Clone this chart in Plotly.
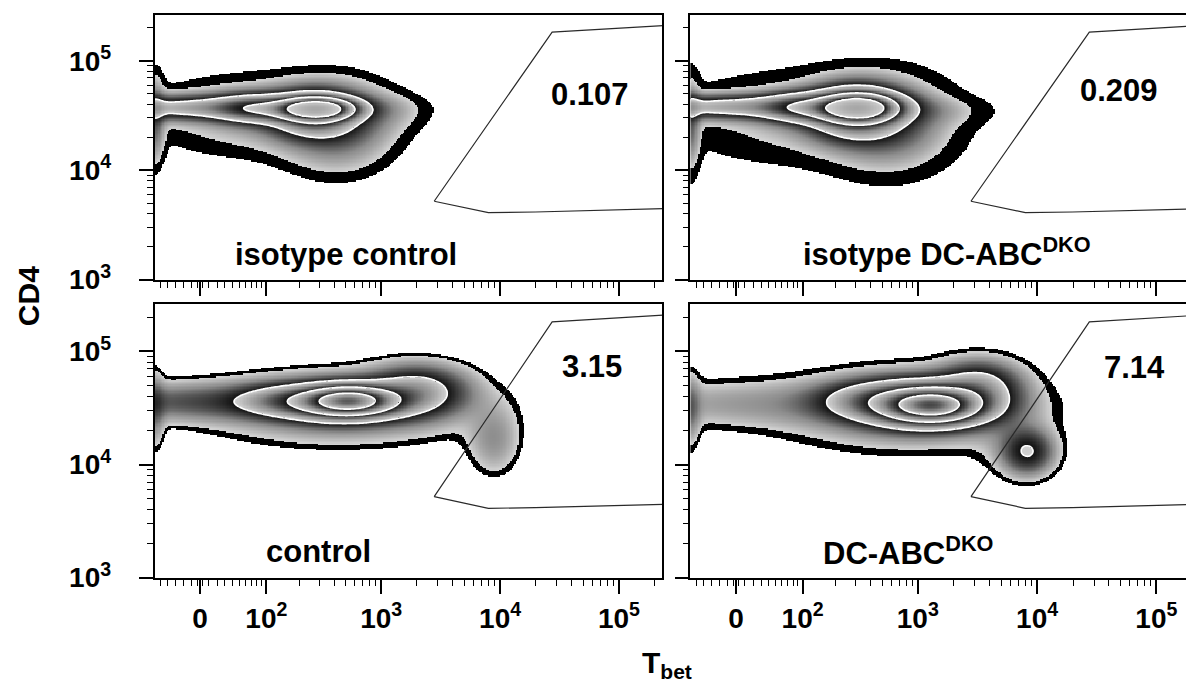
import numpy as np
import plotly.graph_objects as go

# ------------------------------------------------------------------ data
# Tbet axis is a biexponential (arcsinh) display, CD4 axis is log10
W_BIEX = 30.0

panel_labels = ["isotype control", "isotype DC-ABC<sup>DKO</sup>",
                "control", "DC-ABC<sup>DKO</sup>"]
gate_percent = ["0.107", "0.209", "3.15", "7.14"]

# gate polygon (Tbet, CD4) – same gate applied in every panel
gate_tbet = [2790, 7970, 19800, 240000, 240000, 65600, 27400, 2790]
gate_cd4 = [5200, 4100, 4150, 4450, 210000, 194000, 183000, 5200]

# density model of each population: centre (Tbet, CD4), spread (decades), weight
tl_tbet = [289, 262, 72, -2.7, 82, 428, 1130, -59]
tl_cd4 = [36500, 32960, 36500, 37240, 31620, 24720, 34360, 28510]
tl_sdx = [0.2015, 0.235, 0.21, 0.672, 0.6, 0.29, 0.24, 0.05]
tl_sdy = [0.0625, 0.134, 0.089, 0.0714, 0.241, 0.25, 0.12, 0.25]
tl_w = [0.7, 0.3, 0.2, 0.2, 0.045, 0.09, 0.022, 0.08]
tl_levels = [0.012, 0.025, 0.17, 0.42, 0.75, 3.0]

tr_tbet = [319, 289, 92, -2.7, 103, 573, 1506, -59]
tr_cd4 = [37240, 34360, 37240, 38020, 30340, 25760, 34360, 25760]
tr_sdx = [0.21, 0.252, 0.21, 0.672, 0.68, 0.32, 0.3, 0.05]
tr_sdy = [0.08, 0.161, 0.089, 0.0714, 0.268, 0.268, 0.09, 0.268]
tr_w = [0.7, 0.3, 0.2, 0.2, 0.045, 0.09, 0.022, 0.08]
tr_levels = [0.012, 0.03, 0.17, 0.42, 0.75, 3.0]

bl_tbet = [541, 472, 142, 9, 428, 2017, 8940, -59]
bl_cd4 = [36680, 35240, 36680, 35950, 31280, 44750, 16500, 30670]
bl_sdx = [0.235, 0.336, 0.252, 0.84, 0.75, 0.26, 0.14, 0.05]
bl_sdy = [0.0778, 0.112, 0.0864, 0.104, 0.216, 0.138, 0.2, 0.216]
bl_w = [0.7, 0.3, 0.15, 0.08, 0.05, 0.19, 0.045, 0.05]
bl_levels = [0.012, 0.018, 0.15, 0.42, 0.8, 1.25]

br_tbet = [1344, 1130, 428, 9, 766, 3300, 8400, 6000, -59]
br_cd4 = [33190, 34550, 36680, 34550, 30060, 51400, 12900, 17220, 30060]
br_sdx = [0.252, 0.378, 0.294, 0.924, 0.68, 0.22, 0.14, 0.21, 0.05]
br_sdy = [0.095, 0.138, 0.104, 0.138, 0.233, 0.138, 0.13, 0.216, 0.216]
br_w = [0.7, 0.3, 0.15, 0.04, 0.05, 0.15, 0.14, 0.02, 0.05]
br_levels = [0.012, 0.02, 0.15, 0.42, 0.8, 1.2]

x_major_vals = [0, 100, 1000, 10000, 100000]
x_major_text = ["0", "10<sup>2</sup>", "10<sup>3</sup>", "10<sup>4</sup>", "10<sup>5</sup>"]
y_major_vals = [1000, 10000, 100000]
y_major_text = ["10<sup>3</sup>", "10<sup>4</sup>", "10<sup>5</sup>"]


# ------------------------------------------------------------------ helpers
def tx(v):
    return np.arcsinh(np.asarray(v, float) / (2 * W_BIEX)) / np.log(10)


def ty(v):
    return np.log10(np.asarray(v, float))


X_RANGE = [float(tx(-60)), float(tx(232000))]
Y_RANGE = [3.0, 5.42]

gx = np.linspace(X_RANGE[0], X_RANGE[1], 360)
gy = np.linspace(Y_RANGE[0], Y_RANGE[1], 200)
GX, GY = np.meshgrid(gx, gy)


def density(tb, cd, sdx, sdy, w):
    d = np.zeros_like(GX)
    for a, b, sx, sy, ww in zip(tx(tb), ty(cd), sdx, sdy, w):
        d += ww * np.exp(-0.5 * ((GX - a) / sx) ** 2 - 0.5 * ((GY - b) / sy) ** 2)
    return d


LIGHT, MID, DARK = "#d4d4d4", "#8c8c8c", "#101010"


def zebra_colorscale(nb):
    cs = [[0.0, "#000000"], [1.0 / nb, "#000000"]]
    for k in range(1, nb):
        a, b = k / nb, (k + 1) / nb
        cs += [[a, LIGHT], [a + 0.5 * (b - a), MID], [b, DARK]]
    cs[-1][0] = 1.0
    return cs


fig = go.Figure()

panels = [
    (tl_tbet, tl_cd4, tl_sdx, tl_sdy, tl_w, tl_levels, "x", "y"),
    (tr_tbet, tr_cd4, tr_sdx, tr_sdy, tr_w, tr_levels, "x2", "y2"),
    (bl_tbet, bl_cd4, bl_sdx, bl_sdy, bl_w, bl_levels, "x3", "y3"),
    (br_tbet, br_cd4, br_sdx, br_sdy, br_w, br_levels, "x4", "y4"),
]

for tb, cd, sdx, sdy, w, levels, xa, ya in panels:
    d = density(tb, cd, sdx, sdy, w)
    logd = np.log10(np.maximum(d, 1e-12))
    ll = np.log10(levels)
    nb = len(levels) - 1
    band = np.interp(logd, ll, np.arange(len(levels), dtype=float))
    zh = band.copy()
    zh[logd < ll[0]] = np.nan
    fig.add_trace(go.Heatmap(
        x=gx, y=gy, z=zh.astype(np.float32), zmin=0, zmax=nb,
        colorscale=zebra_colorscale(nb), showscale=False, hoverinfo="skip",
        xaxis=xa, yaxis=ya))
    fig.add_trace(go.Contour(
        x=gx, y=gy, z=band.astype(np.float32), showscale=False, hoverinfo="skip",
        contours=dict(start=2, end=nb - 1, size=1, coloring="lines"),
        colorscale=[[0, "white"], [1, "white"]],
        line=dict(width=1.6, smoothing=0.6),
        xaxis=xa, yaxis=ya))
    fig.add_trace(go.Scatter(
        x=tx(gate_tbet), y=ty(gate_cd4), mode="lines",
        line=dict(color="#2a2a2a", width=1.2), hoverinfo="skip",
        showlegend=False, xaxis=xa, yaxis=ya))

# ------------------------------------------------------------------ axes
x_minor = [-50, -40, -30, -20, -10, -3, 3, 10, 20, 30, 40, 50, 60, 70, 80, 90]
for dec in (100, 1000, 10000):
    x_minor += [m * dec for m in range(2, 10)]
x_minor += [200000]
y_minor = []
for dec in (1000, 10000, 100000):
    y_minor += [m * dec for m in range(2, 10) if m * dec <= 262144]

W_PX, H_PX = 1194, 694
xdom_l = [146.7 / W_PX, 655 / W_PX]
xdom_r = [683 / W_PX, 1193 / W_PX]
ydom_t = [1 - 278 / H_PX, 1 - 7 / H_PX]
ydom_b = [1 - 583 / H_PX, 1 - 303 / H_PX]

TICKFONT = dict(family="Liberation Sans, Arial, sans-serif", size=28, color="black", weight="bold")


def xaxis(dom, anchor, labels):
    return dict(domain=dom, anchor=anchor, range=X_RANGE, showgrid=False, zeroline=False,
                showline=True, linecolor="black", linewidth=1.6, mirror=True,
                ticks="outside", ticklen=15, tickwidth=1.5, tickcolor="black",
                tickmode="array", tickvals=tx(x_major_vals).tolist(), ticktext=x_major_text,
                showticklabels=labels, tickfont=TICKFONT, ticklabelstandoff=0,
                minor=dict(tickmode="array", tickvals=tx(x_minor).tolist(), ticklen=7,
                           tickwidth=1.2, tickcolor="black", ticks="outside"),
                fixedrange=True)


def yaxis(dom, anchor, labels):
    return dict(domain=dom, anchor=anchor, range=Y_RANGE, showgrid=False, zeroline=False,
                showline=True, linecolor="black", linewidth=1.6, mirror=True,
                ticks="outside", ticklen=14, tickwidth=1.5, tickcolor="black",
                tickmode="array", tickvals=ty(y_major_vals).tolist(), ticktext=y_major_text,
                showticklabels=labels, tickfont=TICKFONT, ticklabelstandoff=22,
                minor=dict(tickmode="array", tickvals=ty(y_minor).tolist(), ticklen=6,
                           tickwidth=1.2, tickcolor="black", ticks="outside"),
                fixedrange=True)


fig.update_layout(
    width=W_PX, height=H_PX, margin=dict(l=0, r=0, t=0, b=0),
    paper_bgcolor="white", plot_bgcolor="white", showlegend=False,
    xaxis=xaxis(xdom_l, "y", False), yaxis=yaxis(ydom_t, "x", True),
    xaxis2=xaxis(xdom_r, "y2", False), yaxis2=yaxis(ydom_t, "x2", False),
    xaxis3=xaxis(xdom_l, "y3", True), yaxis3=yaxis(ydom_b, "x3", True),
    xaxis4=xaxis(xdom_r, "y4", True), yaxis4=yaxis(ydom_b, "x4", False),
)

LABFONT = dict(family="Liberation Sans, Arial, sans-serif", size=31, color="black", weight="bold")
ann = []
label_pos = [(338, 252), (940, 250), (311, 556), (901, 556)]
pct_pos = [(582, 89), (1112, 84), (584, 367), (1127, 368)]
for txt, (px, py) in zip(panel_labels, label_pos):
    ann.append(dict(text=txt, x=px / W_PX, y=1 - py / H_PX, xref="paper", yref="paper",
                    showarrow=False, font=LABFONT, xanchor="center", yanchor="middle"))
for txt, (px, py) in zip(gate_percent, pct_pos):
    ann.append(dict(text=txt, x=px / W_PX, y=1 - py / H_PX, xref="paper", yref="paper",
                    showarrow=False, font=LABFONT, xanchor="center", yanchor="middle"))
ann.append(dict(text="CD4", x=20 / W_PX, y=1 - 295 / H_PX, xref="paper", yref="paper",
                showarrow=False, textangle=-90, xanchor="center", yanchor="middle",
                font=dict(family="Liberation Sans, Arial, sans-serif", size=30, color="black",
                          weight="bold")))
ann.append(dict(text="T<sub>bet</sub>", x=660 / W_PX, y=1 - 672 / H_PX, xref="paper",
                yref="paper", showarrow=False, xanchor="center", yanchor="middle",
                font=dict(family="Liberation Sans, Arial, sans-serif", size=30, color="black",
                          weight="bold")))
fig.update_layout(annotations=ann)

fig.write_html("out.html")
